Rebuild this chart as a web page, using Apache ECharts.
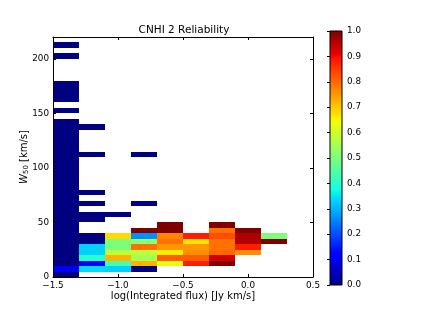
<!DOCTYPE html>
<html>
<head>
<meta charset="utf-8">
<script src="https://cdn.jsdelivr.net/npm/echarts@6/dist/echarts.min.js"></script>
<style>
html,body{margin:0;padding:0;background:#fff;}
#chart{width:421px;height:316px;}
</style>
</head>
<body>
<div id="chart"></div>
<script>
// ---- data (bins are 0.2 wide in log flux, 5 km/s tall in W50) ----
const titleText = 'CNHI 2 Reliability';
const xTickValues = [-1.5, -1.0, -0.5, 0.0, 0.5];
const yTickValues = [0, 50, 100, 150, 200];
const cbTickValues = [0, 0.1, 0.2, 0.3, 0.4, 0.5, 0.6, 0.7, 0.8, 0.9, 1.0];
const binWidthX = 0.2;
const binHeightY = 5;
const colLeftEdges = [-1.5, -1.3, -1.1, -0.9, -0.7, -0.5, -0.3, -0.1, 0.1];

const c1Bottoms = [210, 200, 175, 170, 165, 160, 150, 140, 135, 130, 125, 120, 115, 110, 105, 100, 95, 90, 85, 80, 75, 70, 65, 60, 55, 50, 45, 40, 35, 30, 25, 20, 15, 10, 5, 0];
const c1Values  = [0, 0, 0, 0, 0, 0, 0, 0, 0, 0, 0, 0, 0, 0, 0, 0, 0, 0, 0, 0, 0, 0, 0, 0, 0, 0, 0, 0, 0, 0, 0, 0, 0, 0, 0.1, 0];
const c2Bottoms = [135, 110, 75, 65, 55, 50, 35, 30, 25, 20, 15, 10, 5];
const c2Values  = [0, 0, 0, 0, 0, 0, 0, 0, 0.33, 0.33, 0.4, 0.12, 0.34];
const c3Bottoms = [55, 35, 30, 25, 20, 15, 10, 5];
const c3Values  = [0, 0.68, 0.5, 0.5, 0.58, 0.72, 0.43, 0.33];
const c4Bottoms = [110, 65, 40, 35, 30, 25, 20, 15, 10, 5];
const c4Values  = [0, 0, 1.0, 0.265, 0.52, 0.79, 0.58, 0.55, 0.72, 0];
const c5Bottoms = [45, 40, 35, 30, 25, 20, 15, 10];
const c5Values  = [1.0, 1.0, 0.77, 0.79, 0.75, 0.66, 0.81, 0.63];
const c6Bottoms = [35, 30, 25, 20, 15, 10];
const c6Values  = [0.88, 0.67, 0.75, 0.76, 0.81, 0.88];
const c7Bottoms = [45, 40, 35, 30, 25, 20, 15, 10];
const c7Values  = [1.0, 0.79, 0.83, 0.79, 0.79, 0.8, 0.93, 1.0];
const c8Bottoms = [40, 35, 30, 25, 20];
const c8Values  = [1.0, 0.96, 0.96, 0.88, 0.76];
const c9Bottoms = [35, 30];
const c9Values  = [0.5, 1.0];

const colBottoms = [c1Bottoms, c2Bottoms, c3Bottoms, c4Bottoms, c5Bottoms, c6Bottoms, c7Bottoms, c8Bottoms, c9Bottoms];
const colValues  = [c1Values, c2Values, c3Values, c4Values, c5Values, c6Values, c7Values, c8Values, c9Values];

// ---- jet colormap (matplotlib segment data) ----
const JR = [[0,0],[0.35,0],[0.66,1],[0.89,1],[1,0.5]];
const JG = [[0,0],[0.125,0],[0.375,1],[0.64,1],[0.91,0],[1,0]];
const JB = [[0,0.5],[0.11,1],[0.34,1],[0.65,0],[1,0]];
function seg(s, t){
  for (let i = 1; i < s.length; i++) {
    if (t <= s[i][0]) {
      const a = s[i-1], b = s[i];
      return a[1] + (b[1]-a[1]) * (t-a[0]) / (b[0]-a[0]);
    }
  }
  return s[s.length-1][1];
}
function jet(t){
  const h = v => ('0' + Math.round(Math.max(0, Math.min(1, v)) * 255).toString(16)).slice(-2);
  return '#' + h(seg(JR,t)) + h(seg(JG,t)) + h(seg(JB,t));
}
const jetColors = [];
for (let i = 0; i <= 100; i++) jetColors.push(jet(i/100));
const jetStops = [];
for (let i = 0; i <= 100; i++) jetStops.push({offset: i/100, color: jet(i/100)});

// ---- cells ----
const cells = [];
colLeftEdges.forEach((x, ci) => {
  colBottoms[ci].forEach((y, k) => cells.push([x, y, colValues[ci][k]]));
});

const FONT = 'DejaVu Sans';
const minus = s => s.replace('-', '\u2212');

const chart = echarts.init(document.getElementById('chart'), null, {renderer: 'canvas'});
const axisCommon = {
  z: 5,
  axisLine: {show: true, onZero: false, lineStyle: {color: '#000', width: 1}},
  axisTick: {show: true, inside: true, length: 3, lineStyle: {color: '#000', width: 1}},
  splitLine: {show: false}
};
chart.setOption({
  backgroundColor: '#fff',
  animation: false,
  title: {
    text: titleText, left: 184, top: 25, textAlign: 'center', padding: 0,
    textStyle: {fontFamily: FONT, fontSize: 10.5, fontWeight: 'normal', color: '#000'}
  },
  grid: [
    {left: 53, top: 37, width: 260, height: 240},
    {left: 330, top: 31, width: 12, height: 254}
  ],
  visualMap: {
    type: 'continuous', show: false, min: 0, max: 1, dimension: 2, seriesIndex: 0,
    inRange: {color: jetColors}
  },
  xAxis: [
    Object.assign({}, axisCommon, {
      type: 'value', gridIndex: 0, position: 'bottom', min: -1.5, max: 0.5, interval: 0.5,
      name: 'log(Integrated flux) [Jy km/s]', nameLocation: 'middle', nameGap: 14,
      nameMoveOverlap: false,
      nameTextStyle: {fontFamily: FONT, fontSize: 10, color: '#000'},
      axisLabel: {margin: 4, fontFamily: FONT, fontSize: 8.8, color: '#000',
        formatter: v => minus(v.toFixed(1))}
    }),
    Object.assign({}, axisCommon, {
      type: 'value', gridIndex: 0, position: 'top', min: -1.5, max: 0.5, interval: 0.5,
      axisLabel: {show: false}
    }),
    {type: 'value', gridIndex: 1, min: 0, max: 1, show: false}
  ],
  yAxis: [
    Object.assign({}, axisCommon, {
      type: 'value', gridIndex: 0, position: 'left', min: 0, max: 220, interval: 50,
      name: '{i|W}{s|50} [km/s]', nameLocation: 'middle', nameGap: 23, nameRotate: 90,
      nameMoveOverlap: false,
      nameTextStyle: {fontFamily: FONT, fontSize: 10, color: '#000',
        rich: {
          i: {fontFamily: FONT, fontSize: 10, fontStyle: 'italic', color: '#000'},
          s: {fontFamily: FONT, fontSize: 7, color: '#000', verticalAlign: 'bottom', padding: [4, 0, 0, 0]}
        }},
      axisLabel: {margin: 4, fontFamily: FONT, fontSize: 8.8, color: '#000', showMaxLabel: false}
    }),
    Object.assign({}, axisCommon, {
      type: 'value', gridIndex: 0, position: 'right', min: 0, max: 220, interval: 50,
      axisLabel: {show: false}
    }),
    {
      type: 'value', gridIndex: 1, position: 'right', min: 0, max: 1, interval: 0.1, z: 5,
      axisLine: {show: false},
      axisTick: {show: true, inside: true, length: 3, lineStyle: {color: '#000', width: 1}},
      splitLine: {show: false},
      axisLabel: {margin: 5, fontFamily: FONT, fontSize: 8.8, color: '#000',
        formatter: v => v.toFixed(1)}
    }
  ],
  series: [
    {
      type: 'custom', xAxisIndex: 0, yAxisIndex: 0,
      encode: {x: 0, y: 1},
      data: cells,
      renderItem: function (params, api) {
        const p0 = api.coord([api.value(0), api.value(1)]);
        const p1 = api.coord([api.value(0) + binWidthX, api.value(1) + binHeightY]);
        const x0 = Math.round(p0[0]), x1 = Math.round(p1[0]);
        const y0 = Math.round(p0[1]), y1 = Math.round(p1[1]);
        return {type: 'rect', shape: {x: x0, y: y1, width: x1 - x0, height: y0 - y1},
          style: {fill: api.visual('color')}};
      }
    },
    {
      type: 'custom', xAxisIndex: 2, yAxisIndex: 2,
      data: [[0, 0, 1, 1]],
      renderItem: function (params, api) {
        const p0 = api.coord([api.value(0), api.value(1)]);
        const p1 = api.coord([api.value(2), api.value(3)]);
        return {type: 'rect',
          shape: {x: p0[0], y: p1[1], width: p1[0] - p0[0], height: p0[1] - p1[1]},
          style: {fill: new echarts.graphic.LinearGradient(0, 1, 0, 0, jetStops),
            stroke: '#000', lineWidth: 1}};
      }
    }
  ]
});
</script>
</body>
</html>
